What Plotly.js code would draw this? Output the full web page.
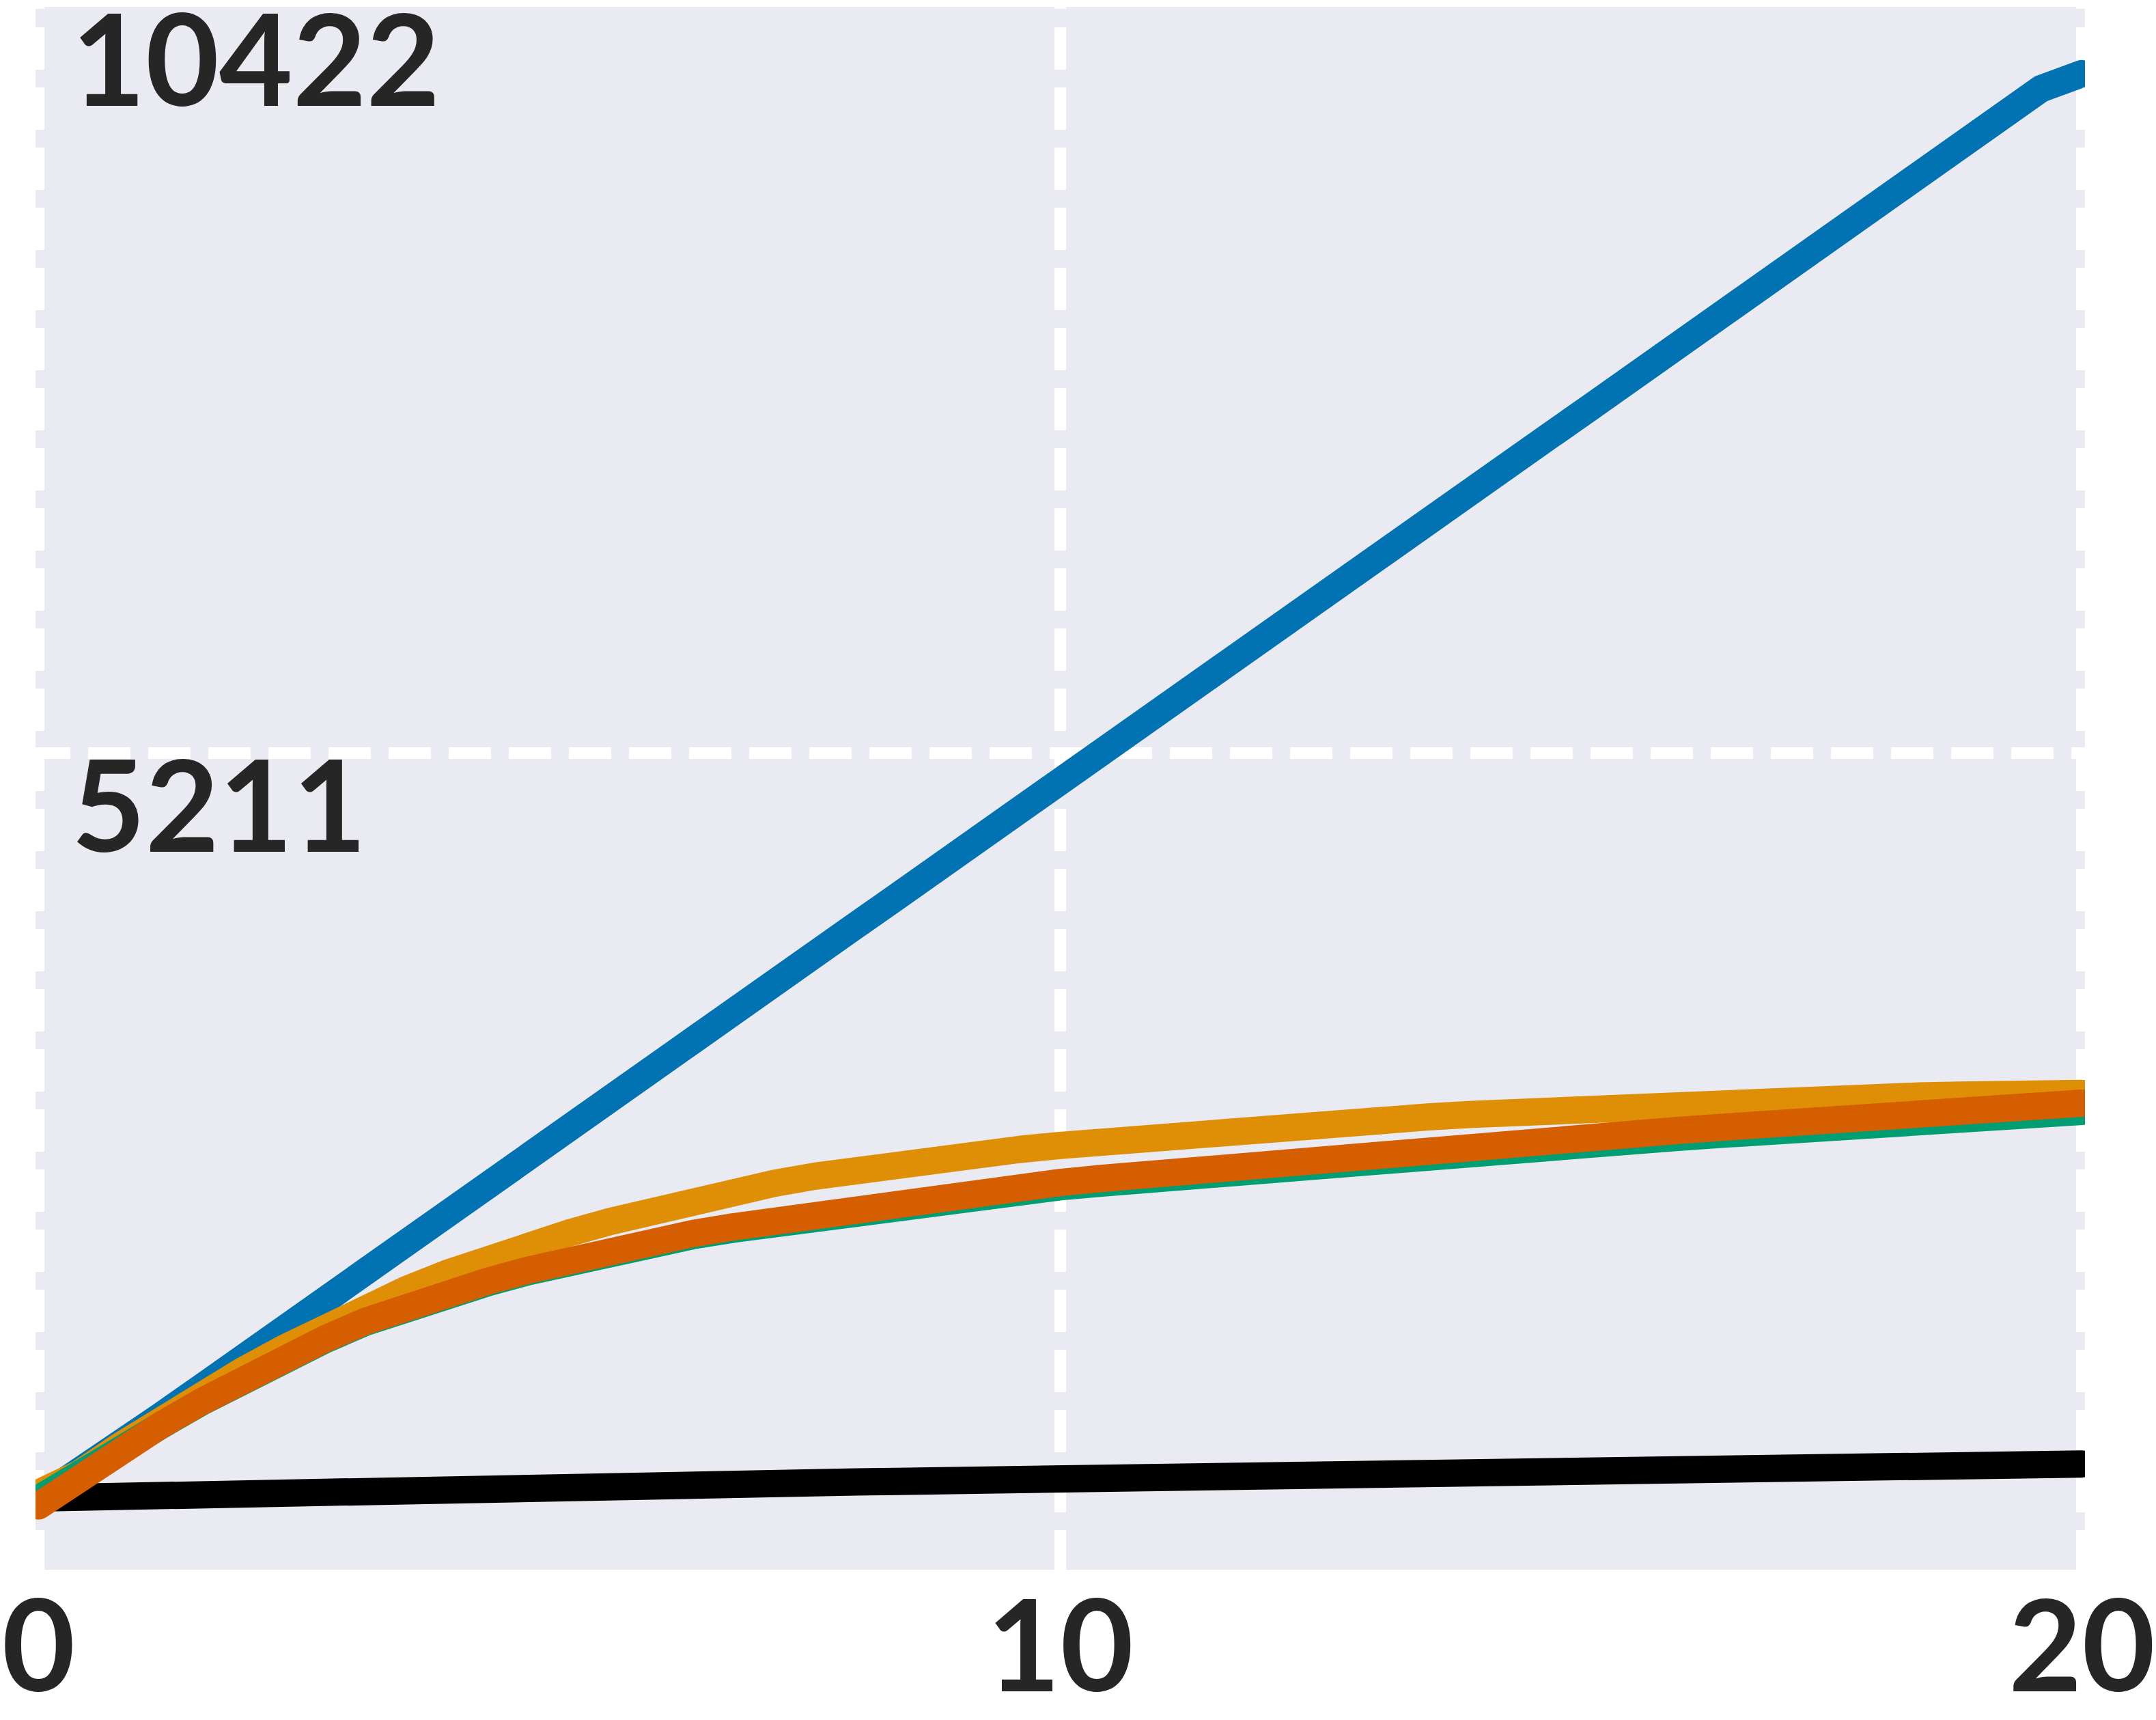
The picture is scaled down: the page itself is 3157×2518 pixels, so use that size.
<!DOCTYPE html>
<html>
<head>
<meta charset="utf-8">
<script src="https://cdn.plot.ly/plotly-3.0.1.min.js"></script>
<style>
  html, body { margin: 0; padding: 0; background: #ffffff; }
  #chart { width: 3157px; height: 2518px; }
  /* thick lines in the reference have rounded joins and ends */
  .scatterlayer path.js-line { stroke-linejoin: round; stroke-linecap: round; }
</style>
</head>
<body>
<div id="chart"></div>
<script>
// x positions of every sample (0 .. 20, step 0.4)
const xs = [0, 0.4, 0.8, 1.2, 1.6, 2, 2.4, 2.8, 3.2, 3.6, 4, 4.4, 4.8, 5.2, 5.6, 6, 6.4, 6.8, 7.2, 7.6,
            8, 8.4, 8.8, 9.2, 9.6, 10, 10.4, 10.8, 11.2, 11.6, 12, 12.4, 12.8, 13.2, 13.6, 14, 14.4, 14.8,
            15.2, 15.6, 16, 16.4, 16.8, 17.2, 17.6, 18, 18.4, 18.8, 19.2, 19.6, 20];

const blueVals = [0, 175, 380, 580, 780, 985, 1180, 1385, 1590, 1790, 1985, 2190, 2390, 2600, 2790, 2995,
                  3200, 3400, 3600, 3800, 4005, 4205, 4410, 4610, 4810, 5010, 5215, 5415, 5615, 5820, 6020,
                  6220, 6420, 6625, 6825, 7025, 7230, 7430, 7630, 7830, 8035, 8235, 8440, 8640, 8840, 9040,
                  9245, 9445, 9650, 9850, 9955];

const orangeVals = [40, 175, 370, 555, 730, 895, 1050, 1196, 1333, 1461, 1575, 1680, 1772, 1858, 1938, 2013,
                    2083, 2147, 2203, 2253, 2298, 2336, 2371, 2406, 2440, 2468, 2495, 2520, 2544, 2567, 2589,
                    2610, 2630, 2649, 2667, 2684, 2700, 2715, 2729, 2742, 2756, 2768, 2779, 2789, 2798, 2806,
                    2813, 2819, 2824, 2828, 2831];

const greenVals = [0, 155, 340, 513, 677, 831, 975, 1109, 1233, 1342, 1431, 1510, 1587, 1660, 1727, 1786,
                   1837, 1883, 1926, 1966, 2005, 2044, 2082, 2119, 2154, 2179, 2205, 2231, 2256, 2281, 2305,
                   2329, 2352, 2374, 2396, 2418, 2440, 2461, 2482, 2502, 2522, 2542, 2562, 2581, 2600, 2618,
                   2636, 2654, 2671, 2689, 2706];

const redVals = [-50, 155, 340, 515, 680, 835, 980, 1115, 1240, 1350, 1440, 1520, 1598, 1672, 1740, 1800,
                 1852, 1899, 1943, 1984, 2024, 2064, 2104, 2143, 2181, 2209, 2237, 2264, 2290, 2316, 2341,
                 2366, 2390, 2414, 2437, 2460, 2483, 2505, 2527, 2549, 2570, 2591, 2612, 2632, 2652, 2671,
                 2690, 2709, 2727, 2745, 2763];

const blackVals = [5, 12, 38, 45, 51, 55, 59, 63, 67, 72, 76, 80, 84, 88, 92, 96, 100, 105, 109, 113, 117,
                   121, 125, 130, 134, 138, 142, 146, 150, 155, 159, 163, 167, 171, 176, 180, 184, 188, 192,
                   197, 201, 205, 209, 213, 218, 222, 226, 230, 234, 239, 243];

const xTicks = [0, 10, 20];
const yTicks = [5211, 10422];
const yTickText = ['5211', '10422'];

const textColor = '#262626';
const labelFont = 'Lato, DejaVu Sans, sans-serif';

// dashed grid: a short first dash sets the phase, then 62 on / 26 off
function gridDash(first, lead, total) {
    const parts = [first + 'px', lead + 'px'];
    for (let run = first + lead; run < total; run += 88) parts.push('62px', '26px');
    return parts.join(',');
}

function line(y, color) {
    return {
        x: xs,
        y: y,
        type: 'scatter',
        mode: 'lines',
        line: { color: color, width: 40 },
        hoverinfo: 'skip'
    };
}

// drawing order: black, blue, orange, green, then vermillion on top
const data = [
    line(blackVals, '#000000'),
    line(blueVals, '#0173B2'),
    line(orangeVals, '#DE8F05'),
    line(greenVals, '#029E73'),
    line(redVals, '#D55E00')
];

const layout = {
    width: 3157,
    height: 2518,
    margin: { l: 52, r: 104, t: 10, b: 220, pad: 0 },
    paper_bgcolor: '#ffffff',
    plot_bgcolor: '#EAEAF2',
    showlegend: false,
    font: { family: labelFont, color: textColor },
    xaxis: {
        range: [-0.03, 20.03],
        tickvals: xTicks,
        ticks: '',
        showline: false,
        zeroline: false,
        showgrid: true,
        gridcolor: '#ffffff',
        gridwidth: 17,
        griddash: gridDash(3, 27, 2300),
        tickfont: { family: labelFont, size: 185, color: textColor, weight: 'bold' },
        ticklabeloverflow: 'allow',
        ticklabelstandoff: -8
    },
    yaxis: {
        range: [-496, 10422],
        tickvals: yTicks,
        ticktext: yTickText,
        ticks: '',
        showline: false,
        zeroline: false,
        showgrid: true,
        gridcolor: '#ffffff',
        gridwidth: 17,
        griddash: gridDash(51, 26, 3020),
        ticklabelposition: 'inside bottom',
        ticklabeloverflow: 'allow',
        ticklabelstandoff: 50,
        ticklabelshift: -50,
        tickfont: { family: labelFont, size: 186, color: textColor, weight: 'bold' }
    }
};

Plotly.newPlot('chart', data, layout, { displayModeBar: false, staticPlot: true });
</script>
</body>
</html>
